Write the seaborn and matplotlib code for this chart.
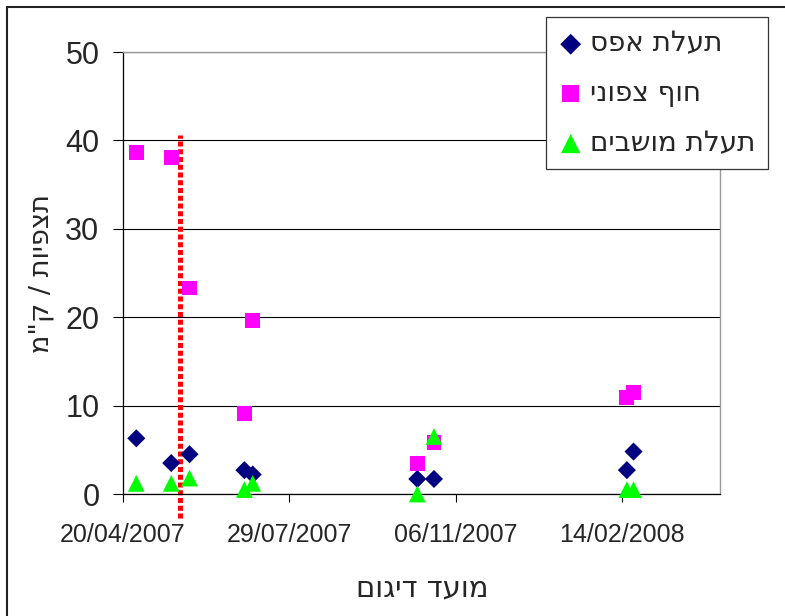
import numpy as np
import pandas as pd
import matplotlib
matplotlib.use("Agg")
import matplotlib.pyplot as plt
import matplotlib.dates as mdates
from matplotlib.lines import Line2D
import seaborn as sns

# ---- data ----
dates = ['2007-04-28', '2007-05-19', '2007-05-30', '2007-07-02', '2007-07-07',
         '2007-10-14', '2007-10-24', '2008-02-17', '2008-02-21']
efes = [6.3, 3.5, 4.5, 2.7, 2.2, 1.7, 1.7, 2.7, 4.8]
north = [38.6, 38.1, 23.3, 9.1, 19.6, 3.4, 5.8, 10.9, 11.5]
moshavim = [1.2, 1.2, 1.8, 0.5, 1.2, 0.0, 6.5, 0.5, 0.5]
series_names = ['תעלת אפס', 'חוף צפוני', 'תעלת מושבים']
series_colors = ['#000080', '#FF00FF', '#00FF00']
series_markers = ['D', 's', '^']
series_sizes = [85, 115, 145]
xtick_dates = ['2007-04-20', '2007-07-29', '2007-11-06', '2008-02-14']
x_range = ['2007-04-20', '2008-04-13']
yticks = [0, 10, 20, 30, 40, 50]
divider_date = ['2007-05-24', '2007-05-24']
divider_y = [-2.7, 40.6]
xlabel = 'מועד דיגום'
ylabel = 'תצפיות / ק"מ'


def vis(s):
    # matplotlib lays text out left-to-right; reverse Hebrew for display
    return s[::-1]


sns.set_style('ticks')
plt.rcParams['font.family'] = ['DejaVu Sans']
num_font = ['Liberation Sans', 'DejaVu Sans']

W, H = 785, 616
fig = plt.figure(figsize=(W / 100, H / 100), dpi=100)
ax = fig.add_axes([123 / W, 1 - 494 / H, (720 - 123) / W, (494 - 52) / H])

d = pd.to_datetime(dates)
for name, vals, c, m, s in zip(series_names, [efes, north, moshavim],
                               series_colors, series_markers, series_sizes):
    df = pd.DataFrame({'date': d, 'value': vals})
    sns.scatterplot(data=df, x='date', y='value', ax=ax, color=c, marker=m,
                    s=s, linewidth=0, edgecolor='none', label=vis(name),
                    clip_on=False, zorder=3)

ax.plot(pd.to_datetime(divider_date), divider_y, color='#FF0000', lw=3.6,
        linestyle=(0, (1, 0.55)), dash_capstyle='butt', clip_on=False, zorder=2)

ax.set_xlim(pd.to_datetime(x_range[0]), pd.to_datetime(x_range[1]))
ax.set_ylim(0, 50)
ax.set_yticks(yticks)
ax.set_xticks(pd.to_datetime(xtick_dates))
ax.xaxis.set_major_formatter(mdates.DateFormatter('%d/%m/%Y'))
ax.yaxis.grid(True, color='black', lw=0.8)
ax.xaxis.grid(False)
ax.set_axisbelow(True)

for sp in ['left', 'bottom']:
    ax.spines[sp].set_color('black')
    ax.spines[sp].set_linewidth(0.9)
for sp in ['top', 'right']:
    ax.spines[sp].set_color('#999999')
    ax.spines[sp].set_linewidth(1.0)

ax.tick_params(axis='y', length=7, width=0.8, pad=10, color='black')
ax.tick_params(axis='x', length=6, width=0.8, pad=15, color='black')
for lab in ax.get_yticklabels():
    lab.set_fontfamily(num_font)
    lab.set_fontsize(22)
for lab in ax.get_xticklabels():
    lab.set_fontfamily(num_font)
    lab.set_fontsize(18)

ax.set_xlabel('')
ax.set_ylabel('')
fig.text(422 / W, 1 - 588 / H, vis(xlabel), ha='center', va='center', fontsize=21)
fig.text(42 / W, 1 - 274 / H, vis(ylabel), ha='center', va='center', fontsize=19.5,
         rotation=90)

leg = ax.legend(loc='upper right', bbox_to_anchor=(768 / W, 1 - 17 / H),
                bbox_transform=fig.transFigure, borderaxespad=0, frameon=True,
                fancybox=False, edgecolor='#333333', fontsize=20,
                handletextpad=0.25, labelspacing=0.78, borderpad=0.45,
                handlelength=0.9, markerscale=1.15)
leg.get_frame().set_linewidth(0.9)
leg.get_frame().set_alpha(1)

fig.add_artist(Line2D([7 / W, 7 / W], [0, 1 - 7 / H], color='#222222', lw=1.5))
fig.add_artist(Line2D([7 / W, 1], [1 - 7 / H, 1 - 7 / H], color='#222222', lw=1.5))

fig.savefig('out.png', dpi=100)
